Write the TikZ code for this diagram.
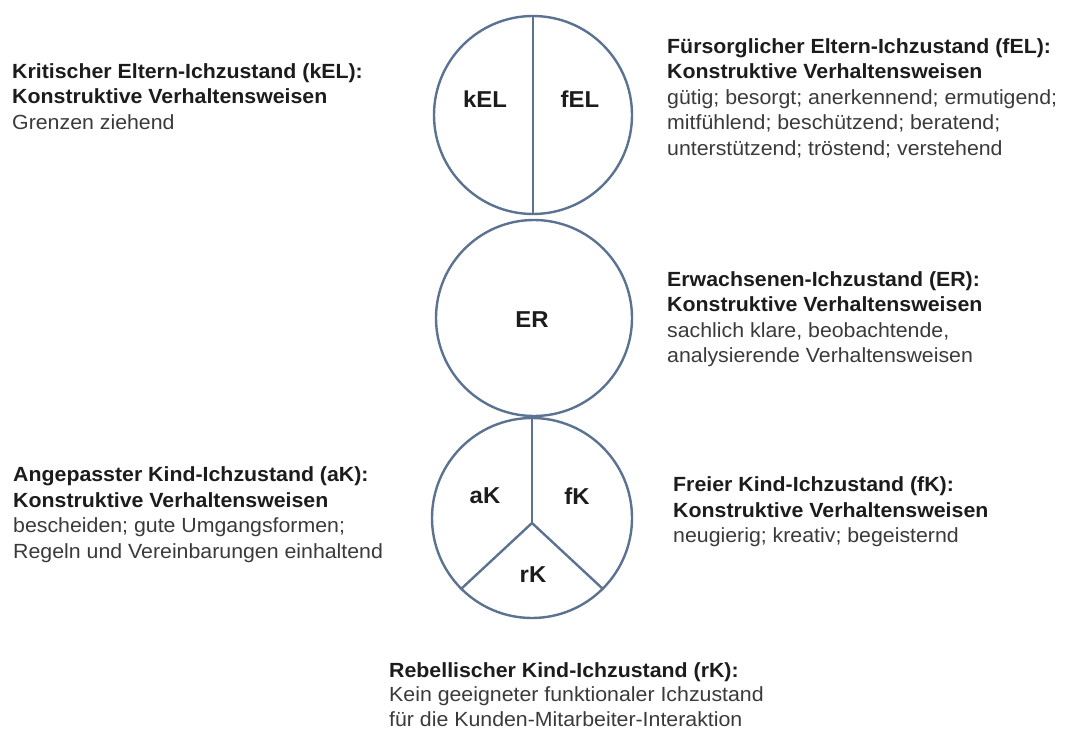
\documentclass[tikz,border=0pt]{standalone}
\usepackage{fontspec}
\setmainfont{Liberation Sans}[FakeStretch=1.04]
\begin{document}
\begin{tikzpicture}[x=1pt,y=-1pt,
  ego/.style={circle, draw=egoline, line width=2.4pt, inner sep=0pt, minimum size=#1},
  divider/.style={draw=egoline, line width=2.4pt},
  egolabel/.style={inner sep=0pt, font=\fontsize{23}{27}\selectfont\bfseries, text=headtext},
  desc/.style={anchor=north west, inner sep=0pt, align=left, text=bodytext,
    font=\fontsize{20.5}{25.5}\selectfont},
]
\definecolor{egoline}{HTML}{5B7291}
\definecolor{headtext}{HTML}{1C1C1C}
\definecolor{bodytext}{HTML}{3A3A3A}
\newcommand{\hd}[1]{{\color{headtext}\bfseries #1}}
\useasboundingbox (0,0) rectangle (1067,733);

% ego-state circles
\node[ego=198pt] (EL) at (533,115) {};
\node[ego=196pt] (ER) at (534,318) {};
\node[ego=200pt] (K)  at (532,518) {};

% parent circle split in two halves
\draw[divider] (EL.north) -- (EL.south);
% child circle split in three sectors
\coordinate (yj) at (532,523);
\draw[divider] (K.north) -- (yj);
\draw[divider] (yj) -- (K.225);
\draw[divider] (yj) -- (K.315);

% labels inside the circles
\node[egolabel] (lkEL) at (485,99) {kEL};
\node[egolabel] (lfEL) at (580,99) {fEL};
\node[egolabel] (lER)  at (532,320) {ER};
\node[egolabel] (laK)  at (485,496) {aK};
\node[egolabel] (lfK)  at (577,496) {fK};
\node[egolabel] (lrK)  at (533,575) {rK};

% descriptions
\node[desc] (dkEL) at (12,60) {\strut\hd{Kritischer Eltern-Ichzustand (kEL):}\\
  \hd{Konstruktive Verhaltensweisen}\\
  Grenzen ziehend};
\node[desc] (dfEL) at (667,35) {\strut\hd{Fürsorglicher Eltern-Ichzustand (fEL):}\\
  \hd{Konstruktive Verhaltensweisen}\\
  gütig; besorgt; anerkennend; ermutigend;\\
  mitfühlend; beschützend; beratend;\\
  unterstützend; tröstend; verstehend};
\node[desc] (dER) at (667,268) {\strut\hd{Erwachsenen-Ichzustand (ER):}\\
  \hd{Konstruktive Verhaltensweisen}\\
  sachlich klare, beobachtende,\\
  analysierende Verhaltensweisen};
\node[desc] (daK) at (13,463.5) {\strut\hd{Angepasster Kind-Ichzustand (aK):}\\
  \hd{Konstruktive Verhaltensweisen}\\
  bescheiden; gute Umgangsformen;\\
  Regeln und Vereinbarungen einhaltend};
\node[desc] (dfK) at (673,473.5) {\strut\hd{Freier Kind-Ichzustand (fK):}\\
  \hd{Konstruktive Verhaltensweisen}\\
  neugierig; kreativ; begeisternd};
\node[desc, font=\fontsize{20.5}{24.5}\selectfont] (drK) at (389,660) {\strut\hd{Rebellischer Kind-Ichzustand (rK):}\\
  Kein geeigneter funktionaler Ichzustand\\
  für die Kunden-Mitarbeiter-Interaktion};
\end{tikzpicture}
\end{document}
